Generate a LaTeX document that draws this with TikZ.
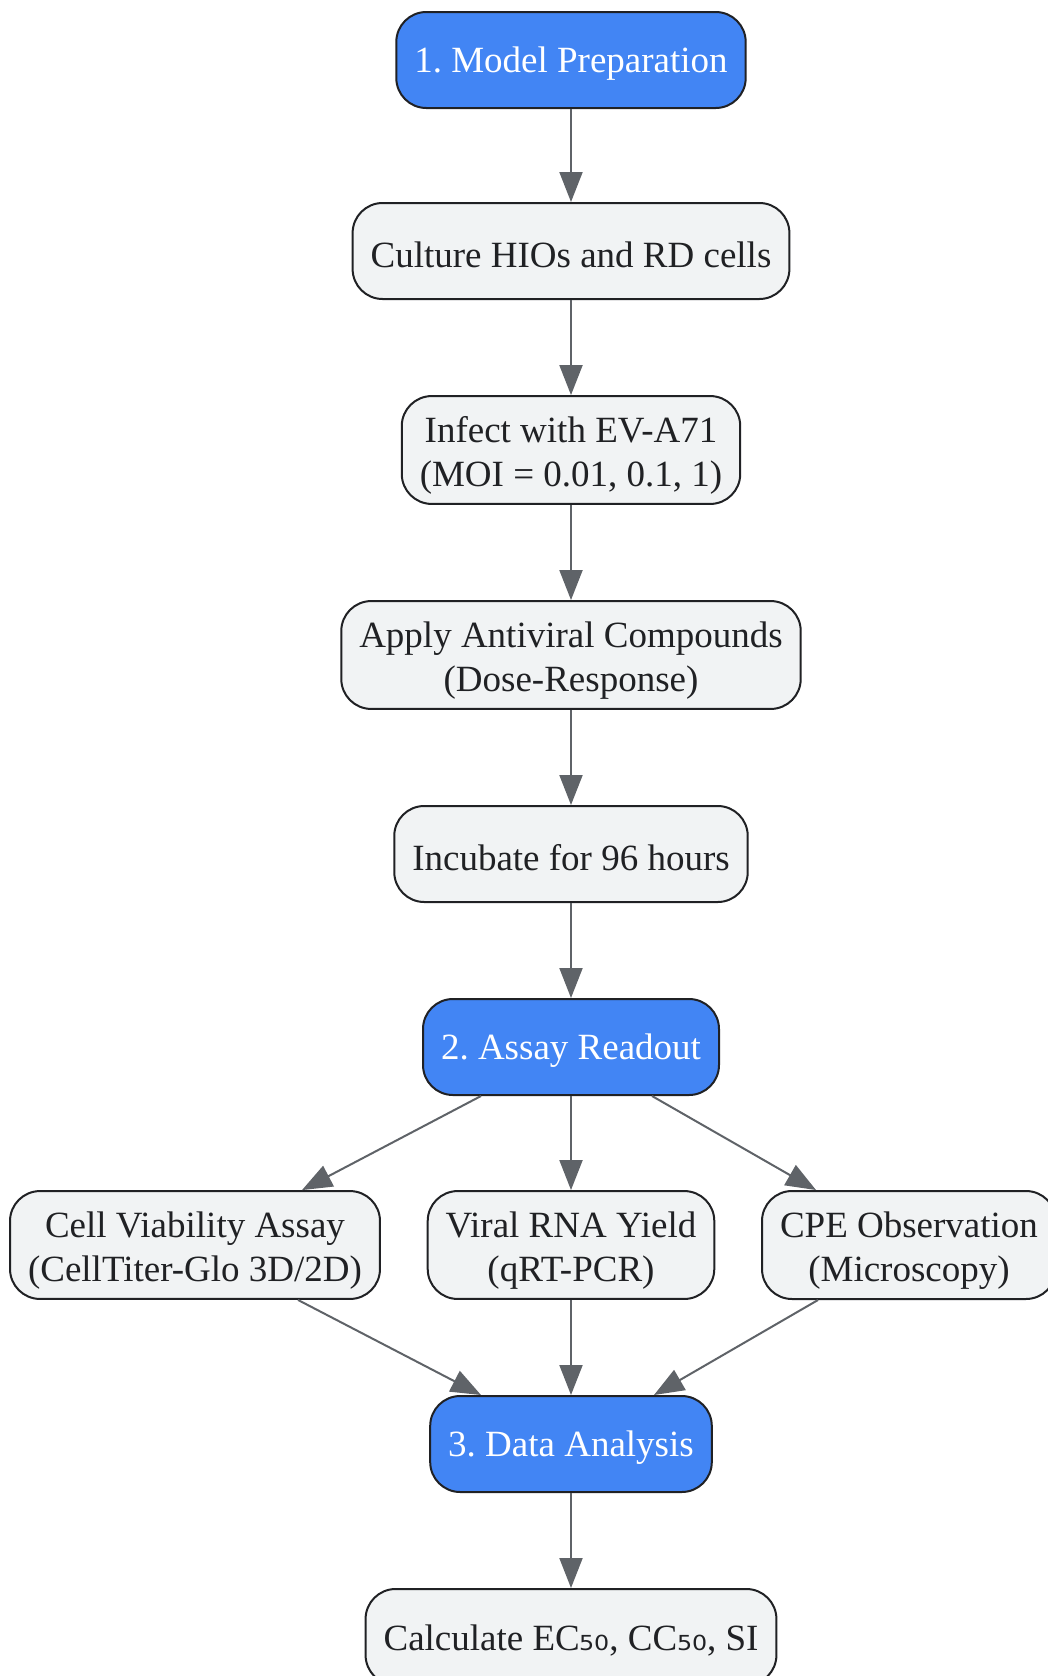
\documentclass[tikz,border=0pt]{standalone}
\usetikzlibrary{arrows.meta}
\usepackage{xcolor}
\usepackage{fontspec}
\setmainfont{Liberation Serif}
\newfontfamily\subfont{DejaVu Sans}
\definecolor{stepblue}{HTML}{4285F4}
\definecolor{boxgray}{HTML}{F1F3F4}
\definecolor{linegray}{HTML}{5F6368}
\definecolor{inkdark}{HTML}{202124}

\begin{document}
\begin{tikzpicture}[x=1pt, y=-1pt]
 \tikzstyle{every node}=[rounded corners=30pt, draw=inkdark, line width=2pt,
                       align=center, inner xsep=18pt, inner ysep=9.5pt,
                       minimum height=96pt, text=inkdark,
                       font=\fontsize{37}{44}\selectfont\frenchspacing,
                       execute at begin node={\rule{0pt}{33pt}}]
 \tikzstyle{stage}=[fill=stepblue, text=white]
 \tikzstyle{task}=[fill=boxgray]
 \tikzstyle{twoline}=[task, execute at begin node={\rule{0pt}{81pt}}]

        \useasboundingbox (0,0) rectangle (1048,1676);

        \node[stage] (MP) at (571,60) {1. Model Preparation};
        \node[task] (CU) at (571,251) {Culture HIOs and RD cells};
        \node[twoline] (IN) at (571,450) {Infect with EV-A71\\(MOI = 0.01, 0.1, 1)};
        \node[twoline] (AP) at (571,655) {Apply Antiviral Compounds\\(Dose-Response)};
        \node[task] (IC) at (571,854) {Incubate for 96 hours};
        \node[stage] (AR) at (571,1047) {2. Assay Readout};

        % three readouts
        \node[twoline] (CV) at (195,1245) {Cell Viability Assay\\(CellTiter-Glo 3D/2D)};
        \node[twoline] (VR) at (571,1245) {Viral RNA Yield\\(qRT-PCR)};
        \node[twoline] (CPE) at (909,1245) {CPE Observation\\(Microscopy)};

        \node[stage] (DA) at (571,1444) {3. Data Analysis};
        \node[task] (CA) at (571,1637) {Calculate EC{\subfont ₅₀}, CC{\subfont ₅₀}, SI};

        \path[linegray, line width=2pt, -{Triangle[length=30pt, width=23pt]}]
    (MP) edge (CU)
    (CU) edge (IN)
    (IN) edge (AP)
    (AP) edge (IC)
    (IC) edge (AR)
    ([xshift=-90pt]AR.south) edge ([xshift=107pt]CV.north)
    (AR) edge (VR)
    ([xshift=81pt]AR.south) edge ([xshift=-93pt]CPE.north)
    ([xshift=103pt]CV.south) edge ([xshift=-90pt]DA.north)
    (VR) edge (DA)
    ([xshift=-91pt]CPE.south) edge ([xshift=83pt]DA.north)
    (DA) edge (CA);

\end{tikzpicture}
\end{document}
